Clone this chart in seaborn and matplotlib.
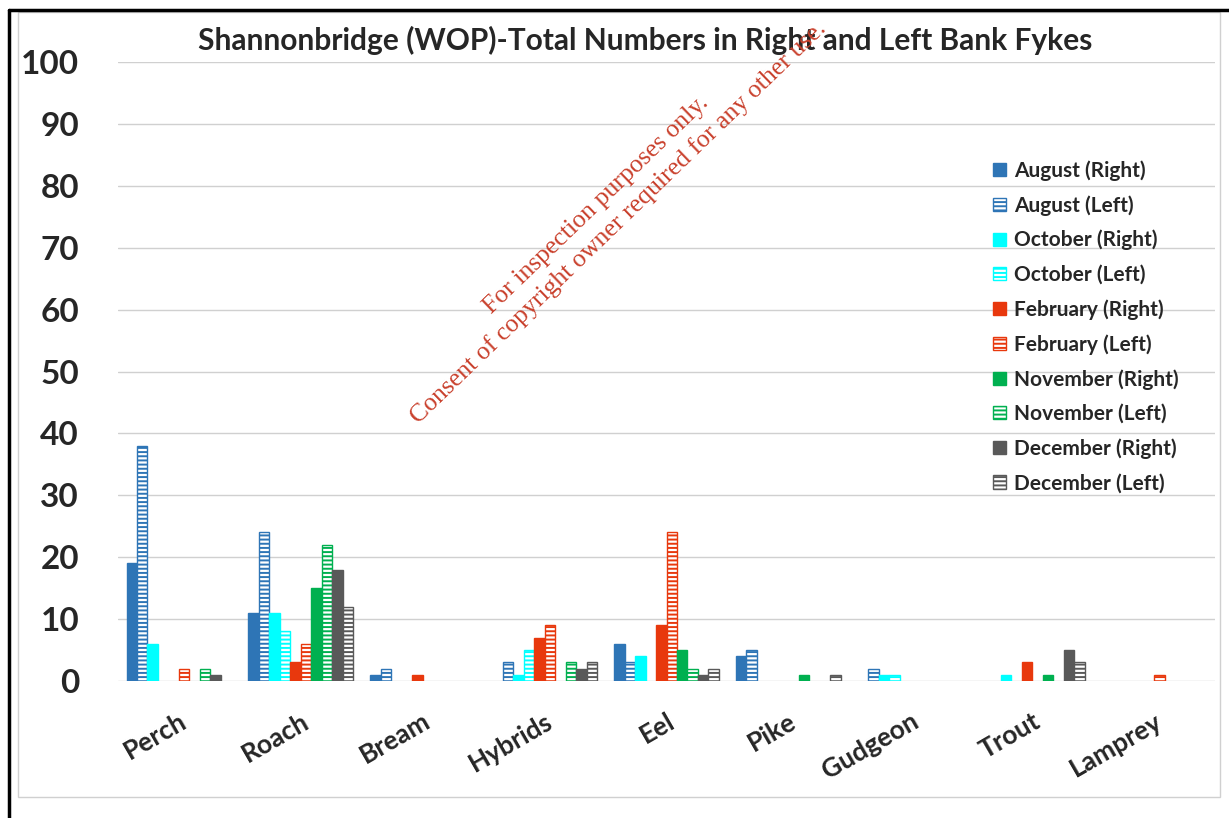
import matplotlib
matplotlib.use("Agg")
import matplotlib.pyplot as plt
import matplotlib.patches as mpatches
import seaborn as sns
import pandas as pd

# data
species = ['Perch', 'Roach', 'Bream', 'Hybrids', 'Eel', 'Pike', 'Gudgeon', 'Trout', 'Lamprey']
series = ['August (Right)', 'August (Left)', 'October (Right)', 'October (Left)',
          'February (Right)', 'February (Left)', 'November (Right)', 'November (Left)',
          'December (Right)', 'December (Left)']

aug_right = [19, 11, 1, 0, 6, 4, 0, 0, 0]
aug_left = [38, 24, 2, 3, 3, 5, 2, 0, 0]
oct_right = [6, 11, 0, 1, 4, 0, 1, 1, 0]
oct_left = [0, 8, 0, 5, 0, 0, 1, 0, 0]
feb_right = [0, 3, 1, 7, 9, 0, 0, 3, 0]
feb_left = [2, 6, 0, 9, 24, 0, 0, 0, 1]
nov_right = [0, 15, 0, 0, 5, 1, 0, 1, 0]
nov_left = [2, 22, 0, 3, 2, 0, 0, 0, 0]
dec_right = [1, 18, 0, 2, 1, 0, 0, 5, 0]
dec_left = [0, 12, 0, 3, 2, 1, 0, 3, 0]

values = [aug_right, aug_left, oct_right, oct_left, feb_right,
          feb_left, nov_right, nov_left, dec_right, dec_left]

month_colors = ['#2E75B6', '#2E75B6', '#00FFFF', '#00FFFF', '#E8380D',
                '#E8380D', '#00B050', '#00B050', '#595959', '#595959']

rows = []
for s, vals in zip(series, values):
    for sp, v in zip(species, vals):
        rows.append({'Species': sp, 'Series': s, 'Count': v})
df = pd.DataFrame(rows)

sns.set_style("white")
plt.rcParams['font.family'] = ['Lato', 'DejaVu Sans']
plt.rcParams['font.weight'] = 'bold'
plt.rcParams['hatch.linewidth'] = 1.4

W, H = 1229, 818
fig = plt.figure(figsize=(W / 100, H / 100), dpi=100)
ax = fig.add_axes([118 / W, 1 - 681 / H, (1215 - 118) / W, (681 - 62) / H])

sns.barplot(data=df, x='Species', y='Count', hue='Series', palette=month_colors,
            width=0.86, ax=ax, legend=False, saturation=1, errorbar=None)

# left-bank series get a white fill with horizontal stripes
for i, cont in enumerate(ax.containers):
    col = month_colors[i]
    for p in cont.patches:
        if p.get_height() == 0:
            p.set_visible(False)
            continue
        p.set_edgecolor(col)
        p.set_linewidth(1.0)
        if 'Left' in series[i]:
            p.set_facecolor('white')
            p.set_hatch('----')

ax.set_ylim(0, 100)
ax.set_yticks(range(0, 101, 10))
ax.yaxis.grid(True, color='#D0D0D0', linewidth=1.0)
ax.set_axisbelow(True)
for sp in ax.spines.values():
    sp.set_visible(False)
ax.set_xlabel('')
ax.set_ylabel('')
ax.tick_params(axis='y', length=0, pad=28, labelsize=24)
ax.tick_params(axis='x', length=0, pad=20, labelsize=19)
for lab in ax.get_xticklabels():
    lab.set_rotation(30)
    lab.set_ha('right')
    lab.set_rotation_mode('anchor')
    lab.set_fontweight('bold')
for lab in ax.get_yticklabels():
    lab.set_fontweight('bold')

fig.text(645 / W, 1 - 40 / H, 'Shannonbridge (WOP)-Total Numbers in Right and Left Bank Fykes',
         ha='center', va='center', fontsize=21.5, fontweight='bold')

handles = []
for i, s in enumerate(series):
    if 'Left' in s:
        handles.append(mpatches.Patch(facecolor='white', edgecolor=month_colors[i],
                                      hatch='----', label=s))
    else:
        handles.append(mpatches.Patch(facecolor=month_colors[i], edgecolor=month_colors[i], label=s))
leg = ax.legend(handles=handles, loc='upper left', bbox_to_anchor=(993 / W, 1 - 160 / H),
                bbox_transform=fig.transFigure, frameon=False, borderpad=0, borderaxespad=0,
                fontsize=15, labelspacing=0.69, handlelength=0.6, handleheight=0.6,
                handletextpad=0.4)
for t in leg.get_texts():
    t.set_fontweight('bold')

# watermark
wm = '#C9402C'
fig.text(596 / W, 1 - 205 / H, 'For inspection purposes only.', rotation=44,
         ha='center', va='center', rotation_mode='anchor', color=wm,
         fontsize=18.5, family='Liberation Serif', fontweight='normal')
fig.text(618 / W, 1 - 222 / H, 'Consent of copyright owner required for any other use.',
         rotation=44, ha='center', va='center', rotation_mode='anchor', color=wm,
         fontsize=18.5, family='Liberation Serif', fontweight='normal')

# frames
fig.add_artist(mpatches.Rectangle((18 / W, 1 - 797 / H), (1220 - 18) / W, (797 - 12) / H,
                                  transform=fig.transFigure, fill=False,
                                  edgecolor='#D0D0D0', linewidth=1.0))
fig.add_artist(plt.Line2D([9 / W, 1], [1 - 10 / H, 1 - 10 / H], transform=fig.transFigure,
                          color='black', linewidth=2.5))
fig.add_artist(plt.Line2D([9 / W, 9 / W], [0, 1 - 10 / H], transform=fig.transFigure,
                          color='black', linewidth=2.5))

fig.savefig('out.png', dpi=100)
